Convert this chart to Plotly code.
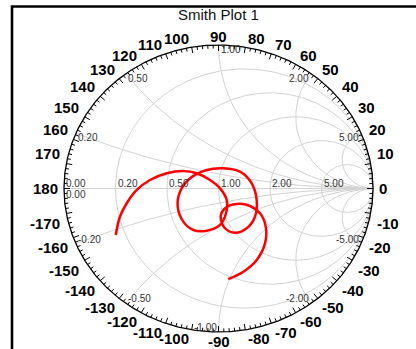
import numpy as np
import plotly.graph_objects as go

# ---------------- data ----------------
TITLE = "Smith Plot 1"
R_GRID = [0.2, 0.5, 1.0, 2.0, 5.0]          # constant-resistance circles
X_GRID = [0.2, 0.5, 1.0, 2.0, 5.0]          # constant-reactance arcs (+/-)
ANGLE_LABELS = list(range(-170, 190, 10))   # degrees around the rim

# reflection coefficient of the trace
GAMMA_RE = [-0.665, -0.638, -0.594, -0.529, -0.443, -0.335, -0.228, -0.141,
            -0.055, 0.010, 0.053, 0.049, 0.010, -0.076, -0.163, -0.228,
            -0.264, -0.249, -0.184, -0.076, 0.031, 0.139, 0.215, 0.247,
            0.236, 0.183, 0.107, 0.042, 0.014, 0.042, 0.118, 0.204,
            0.269, 0.306, 0.301, 0.247, 0.161, 0.063]
GAMMA_IM = [-0.324, -0.197, -0.103, -0.010, 0.059, 0.106, 0.122, 0.106,
            0.059, 0.001, -0.080, -0.171, -0.254, -0.294, -0.289, -0.231,
            -0.127, -0.022, 0.071, 0.129, 0.141, 0.117, 0.036, -0.080,
            -0.197, -0.277, -0.308, -0.277, -0.197, -0.138, -0.108, -0.122,
            -0.173, -0.266, -0.382, -0.498, -0.580, -0.631]

# ---------------- layout geometry ----------------
W, H = 416, 349
CX, CY = 218.5, 188.5      # chart centre (px)
RX, RY = 154.5, 143.5      # chart radii (px)
x_range = [-CX / RX, (W - CX) / RX]
y_range = [-(H - CY) / RY, CY / RY]

GRID = "#d2d2d2"
FONT = "Liberation Sans, Arial, Helvetica, sans-serif"


def z2g(z):
    return (z - 1) / (z + 1)


fig = go.Figure()

# grid: resistance circles
gx, gy = [], []
phi = np.linspace(0, 2 * np.pi, 361)
for r in R_GRID:
    c, rad = r / (1 + r), 1 / (1 + r)
    gx += list(c + rad * np.cos(phi)) + [None]
    gy += list(rad * np.sin(phi)) + [None]
# grid: reactance arcs
s = np.tan(np.linspace(0, np.pi / 2 - 1e-5, 500))
for xv in X_GRID:
    for sg in (1, -1):
        g = z2g(s + 1j * sg * xv)
        gx += list(g.real) + [None]
        gy += list(g.imag) + [None]
# real axis
gx += [-1, 1, None]
gy += [0, 0, None]
fig.add_trace(go.Scatter(x=gx, y=gy, mode="lines",
                         line=dict(color=GRID, width=1), hoverinfo="skip"))

# outer rim
th = np.linspace(0, 2 * np.pi, 721)
fig.add_trace(go.Scatter(x=np.cos(th), y=np.sin(th), mode="lines",
                         line=dict(color="black", width=1.3), hoverinfo="skip"))

# rim ticks
tx, ty = [], []
for a in range(0, 360, 2):
    t = np.radians(a)
    L = 6.0 if a % 10 == 0 else 3.5
    tx += [np.cos(t), np.cos(t) * (1 - L / RX), None]
    ty += [np.sin(t), np.sin(t) * (1 - L / RY), None]
fig.add_trace(go.Scatter(x=tx, y=ty, mode="lines",
                         line=dict(color="black", width=1), hoverinfo="skip"))

# data trace
fig.add_trace(go.Scatter(x=GAMMA_RE, y=GAMMA_IM, mode="lines",
                         line=dict(color="#ff0000", width=2.5, shape="spline",
                                   smoothing=1.0),
                         hoverinfo="skip"))

ann = []
# degree labels
for a in ANGLE_LABELS:
    t = np.radians(a)
    c, sn = np.cos(t), np.sin(t)
    xa = "center" if abs(c) < 1e-6 else ("left" if c > 0 else "right")
    ya = "middle" if abs(sn) < 1e-6 else ("bottom" if sn > 0 else "top")
    ann.append(dict(x=c, y=sn, xref="x", yref="y", text=str(a), showarrow=False,
                    xanchor=xa, yanchor=ya, xshift=4 * c, yshift=-1.5 * sn,
                    font=dict(family=FONT, size=15, color="black", weight="bold")))

SMALL = dict(family=FONT, size=10, color="#333333")
# real-axis labels
for r in [0.0] + R_GRID:
    ann.append(dict(x=z2g(r), y=0, xref="x", yref="y", text=f"{r:.2f}",
                    showarrow=False, xanchor="left", yanchor="bottom",
                    yshift=-2.5, font=SMALL))
# imaginary labels
ann.append(dict(x=-1, y=0, xref="x", yref="y", text="0.00", showarrow=False,
                xanchor="left", yanchor="top", yshift=2, font=SMALL))
for xv in X_GRID:
    for sg in (1, -1):
        g = z2g(1j * sg * xv)
        deg = round(float(np.degrees(np.angle(g))), 6)
        if sg > 0:
            xa = "left" if deg >= 90 else "right"
            ya, ys = "top", 3
        else:
            xa = "left" if deg < -90 else "right"
            ya, ys = "bottom", -3
        ann.append(dict(x=g.real, y=g.imag, xref="x", yref="y",
                        text=f"{sg * xv:.2f}", showarrow=False,
                        xanchor=xa, yanchor=ya, yshift=ys, font=SMALL))

# title
ann.append(dict(x=CX / W, y=1 - 14 / H, xref="paper", yref="paper", text=TITLE,
                showarrow=False, xanchor="center", yanchor="middle",
                font=dict(family=FONT, size=15, color="#111111")))

fig.update_layout(
    width=W, height=H,
    margin=dict(l=0, r=0, t=0, b=0),
    paper_bgcolor="white", plot_bgcolor="white",
    showlegend=False,
    xaxis=dict(range=x_range, visible=False, fixedrange=True),
    yaxis=dict(range=y_range, visible=False, fixedrange=True),
    annotations=ann,
    shapes=[dict(type="rect", xref="paper", yref="paper",
                 x0=12 / W, x1=1.2, y0=-0.2, y1=1 - 6.5 / H,
                 line=dict(color="black", width=2.6))],
)

fig.write_html("out.html",
               config={"displayModeBar": False},
               post_script="document.body.style.margin='0';"
                           "document.body.style.overflow='hidden';")
